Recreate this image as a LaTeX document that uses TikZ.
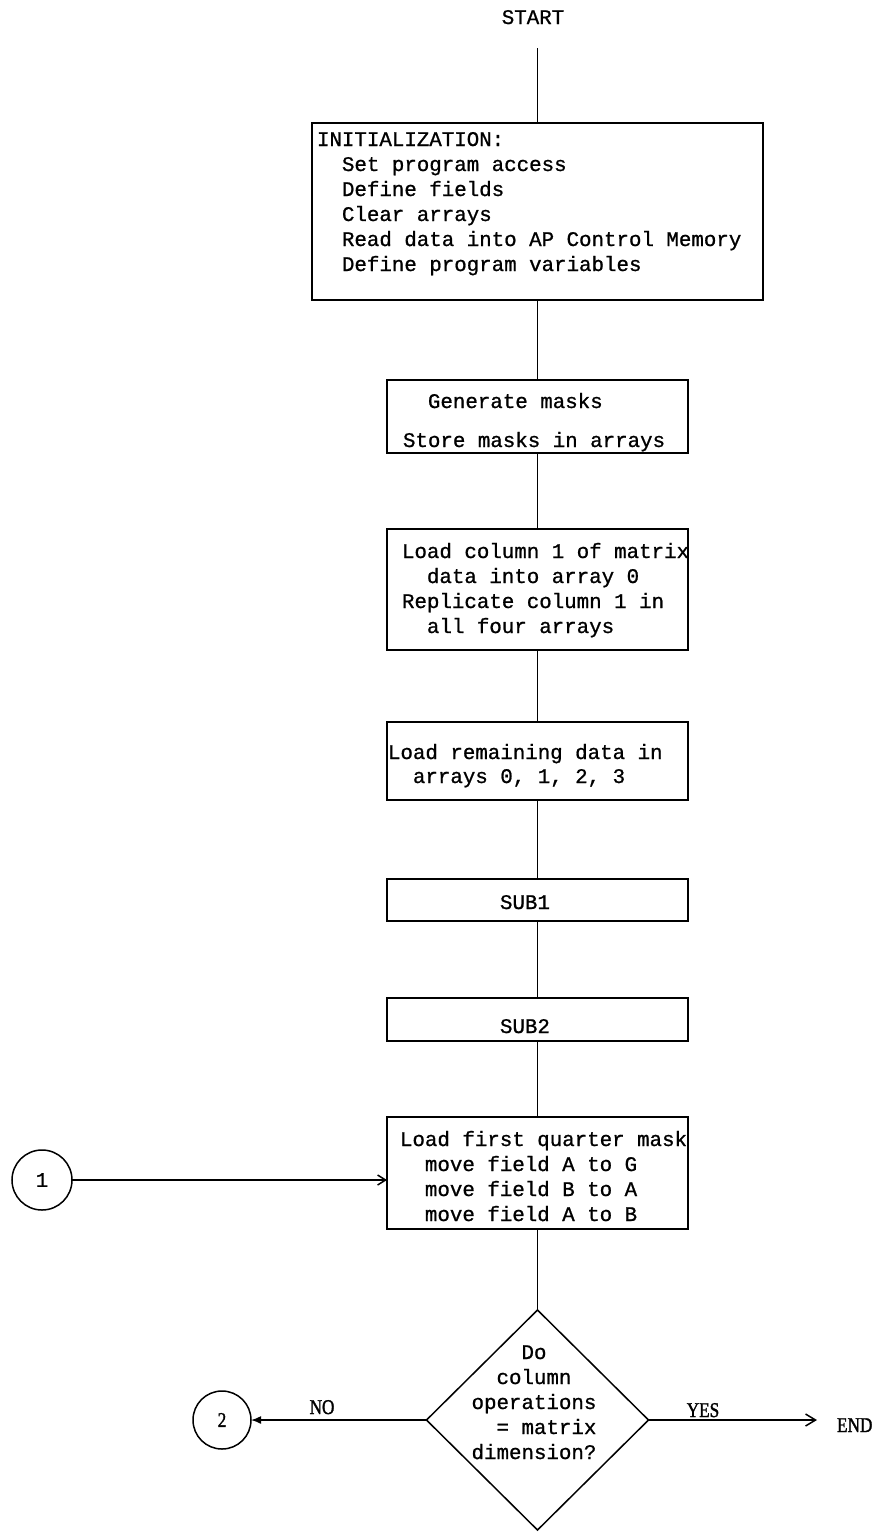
\documentclass[tikz,border=0pt]{standalone}
\usepackage{fontspec}
\setmainfont[FakeBold=0.9]{Liberation Mono}
\newfontfamily\lserif[FakeStretch=0.82,FakeBold=1.4]{Liberation Serif}
\usetikzlibrary{shapes.geometric,arrows.meta}
\newcommand{\ind}{\hspace*{12.48pt}}
\newcommand{\cl}[1]{\hbox to 62.4pt{\hss #1\hss}}
\begin{document}
\begin{tikzpicture}[x=0.5pt,y=-0.5pt,
  font=\fontsize{10.4pt}{12.5pt}\selectfont,
  every node/.style={outer sep=0pt},
  box/.style={draw,line width=0.75pt,inner sep=0pt,minimum width=150.5pt},
  txt/.style={inner sep=0pt,anchor=base west},
  conn/.style={line width=0.75pt},
  circ/.style={draw,circle,line width=0.75pt,inner sep=0pt},
  lab/.style={inner sep=0pt,anchor=base,font=\lserif\fontsize{10.5pt}{12pt}\selectfont}]
\useasboundingbox (0,0) rectangle (875,1532);

% START
\node[anchor=base,inner sep=0pt] (start) at (533,24) {START};

% Initialization
\node[box,minimum width=225.5pt,minimum height=88.5pt] (init) at (537.5,211.5) {};
\node[txt] (initT) at (317,146) {\vtop{\baselineskip=12.5pt
  \hbox{INITIALIZATION:}
  \hbox{\ind Set program access}
  \hbox{\ind Define fields}
  \hbox{\ind Clear arrays}
  \hbox{\ind Read data into AP Control Memory}
  \hbox{\ind Define program variables}}};

% Generate masks
\node[box,minimum height=36.5pt] (gen) at (537.5,416.5) {};
\node[txt] (genT) at (403,408) {\vtop{\baselineskip=19.5pt
  \hbox{\ind Generate masks}
  \hbox{Store masks in arrays}}};

% Load column 1
\node[box,minimum height=60.5pt] (col) at (537.5,589.5) {};
\node[txt] (colT) at (402,558) {\vtop{\baselineskip=12.5pt
  \hbox{Load column 1 of matrix}
  \hbox{\ind data into array 0}
  \hbox{Replicate column 1 in}
  \hbox{\ind all four arrays}}};

% Load remaining data
\node[box,minimum height=39pt] (rem) at (537.5,761) {};
\node[txt] (remT) at (388,759) {\vtop{\baselineskip=12pt
  \hbox{Load remaining data in}
  \hbox{\ind arrays 0, 1, 2, 3}}};

% SUB1, SUB2
\node[box,minimum height=21pt] (sub1) at (537.5,900) {};
\node[txt] (sub1T) at (500,909) {SUB1};
\node[box,minimum height=21.5pt] (sub2) at (537.5,1019.5) {};
\node[txt] (sub2T) at (500,1033) {SUB2};

% Load first quarter mask
\node[box,minimum height=56pt] (quart) at (537.5,1173) {};
\node[txt] (quartT) at (400,1146) {\vtop{\baselineskip=12.5pt
  \hbox{Load first quarter mask}
  \hbox{\ind move field A to G}
  \hbox{\ind move field B to A}
  \hbox{\ind move field A to B}}};

% Decision
\node[draw,diamond,line width=0.75pt,inner sep=0pt,minimum width=111pt,minimum height=110pt] (dia) at (537.5,1420) {};
\node[anchor=base,inner sep=0pt] (diaT) at (534,1359) {\vtop{\baselineskip=12.5pt
  \cl{Do}
  \cl{column}
  \cl{operations}
  \cl{\ind= matrix}
  \cl{dimension?}}};

% Connectors
\node[circ,minimum size=30pt] (c1) at (42,1180) {1};
\node[circ,minimum size=29pt,font=\lserif\fontsize{10.5pt}{12pt}\selectfont] (c2) at (222,1420) {2};
\node[inner sep=0pt,anchor=base west,font=\lserif\fontsize{10.5pt}{12pt}\selectfont] (endn) at (837,1432) {END};
\node[lab] (nolab) at (322,1414) {NO};
\node[lab] (yeslab) at (703,1417) {YES};

% Lines
\draw[conn,shorten <=12pt] (start.south -| init.north) -- (init.north);
\draw[conn] (init.south) -- (gen.north);
\draw[conn] (gen.south) -- (col.north);
\draw[conn] (col.south) -- (rem.north);
\draw[conn] (rem.south) -- (sub1.north);
\draw[conn] (sub1.south) -- (sub2.north);
\draw[conn] (sub2.south) -- (quart.north);
\draw[conn] (quart.south) -- (dia.north);
\draw[conn,-{Straight Barb[length=4pt,width=5pt]}] (c1.east) -- (c1.east -| quart.west);
\draw[conn,-{Latex[length=5pt,width=4pt]}] (dia.west) -- (c2.east);
\draw[conn,shorten >=10pt,-{Straight Barb[length=5pt,width=6pt]}] (dia.east) -- (dia.east -| endn.west);
\end{tikzpicture}
\end{document}
